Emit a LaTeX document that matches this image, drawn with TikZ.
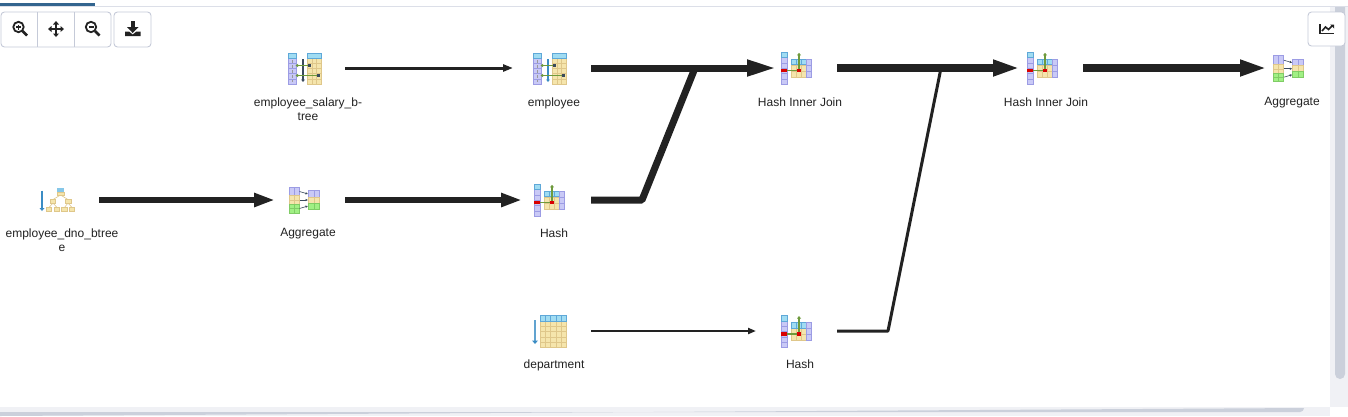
\documentclass[tikz,border=0pt]{standalone}
\usepackage{fontspec}
\setmainfont{Liberation Sans}
\usetikzlibrary{arrows.meta}
\definecolor{lav}{HTML}{C9C9F6}
\definecolor{lavb}{HTML}{9C9CE4}
\definecolor{tanf}{HTML}{F5E5AC}
\definecolor{tanb}{HTML}{DFC78A}
\definecolor{hdr}{HTML}{A0DCF2}
\definecolor{hdrb}{HTML}{5FA8D8}
\definecolor{grn}{HTML}{A0F084}
\definecolor{grnb}{HTML}{80CC66}
\definecolor{garrow}{HTML}{6E9A3C}
\definecolor{barrow}{HTML}{3A8CC4}
\definecolor{dsq}{HTML}{3A4A5C}
\definecolor{edgec}{HTML}{222222}
\definecolor{uib}{HTML}{C5CAD8}
\definecolor{track}{HTML}{F0F1F5}
\definecolor{thumb}{HTML}{CBD0DB}
\definecolor{topbar}{HTML}{33658F}
\newcommand{\cellgrid}[7]{% x1 y1 x2 y2 nx ny color
  \draw[#7,line width=.7pt] (#1,#2) rectangle (#3,#4);
  \pgfmathsetmacro{\dxx}{(#3-#1)/#5}\pgfmathsetmacro{\dyy}{(#4-#2)/#6}
  \foreach \ii in {1,...,#5}{\draw[#7,line width=.5pt] ({#1+\ii*\dxx-\dxx},#2) -- ({#1+\ii*\dxx-\dxx},#4);}
  \foreach \jj in {1,...,#6}{\draw[#7,line width=.5pt] (#1,{#2+\jj*\dyy-\dyy}) -- (#3,{#2+\jj*\dyy-\dyy});}
}
\tikzset{
  x=1pt,y=-1pt,
  iconbox/.style={inner sep=0pt,minimum width=80pt,minimum height=36pt},
  lbl/.style={inner sep=0pt,anchor=north,align=center,font=\fontsize{12}{14.5}\selectfont,text=edgec},
  flow/.style={draw=edgec,line join=bevel},
  uibtn/.style={draw=uib,fill=white,rounded corners=3.5pt,line width=.9pt},
  uiico/.style={draw=edgec,line width=1.8pt},
  % origin = top-left of the icon's left column
  hashicon/.pic={
    \fill[lav] (0,0) rectangle (6,32); \cellgrid{0}{0}{6}{32}{1}{6}{lavb}
    \fill[hdr] (0,0) rectangle (6,5.5); \draw[hdrb,line width=.8pt] (0,0) rectangle (6,5.5);
    \fill[red!85!black] (0,16.6) rectangle (6,20);
    \fill[tanf] (10,7) rectangle (25,25); \cellgrid{10}{7}{25}{25}{3}{3}{tanb}
    \fill[hdr] (10,7) rectangle (25,12.5); \cellgrid{10}{7}{25}{12.5}{3}{1}{hdrb}
    \fill[lav] (25,7) rectangle (30,25); \cellgrid{25}{7}{30}{25}{1}{3}{lavb}
    \draw[garrow,line width=1.4pt] (6,18.3) -- (18,18.3) -- (18,2);
    \fill[garrow] (16,3) -- (18,0.5) -- (20,3) -- cycle;
    \fill[red!85!black] (16.3,16.6) rectangle (19.7,20);
  },
  indexscan/.pic={
    \fill[lav] (0,0) rectangle (8.5,31); \cellgrid{0}{0}{8.5}{31}{1}{6}{lavb}
    \fill[hdr] (0,0) rectangle (8.5,5.5); \draw[hdrb,line width=.8pt] (0,0) rectangle (8.5,5.5);
    \foreach \yy in {8.5,13.5,18.5,23.5,28}{\fill[gray!80] (3.5,\yy-1.2) rectangle (5,\yy+1.2);}
    \draw[#1,line width=1.2pt] (15,6) -- (15,28);
    \fill[#1] (13,26.5) -- (17,26.5) -- (15,29) -- cycle;
    \fill[tanf] (19,0) rectangle (33.5,31); \cellgrid{19}{0}{33.5}{31}{3}{6}{tanb}
    \fill[hdr] (19,0) rectangle (33.5,5.5); \draw[hdrb,line width=.8pt] (19,0) rectangle (33.5,5.5);
    \draw[garrow,line width=1.2pt] (8,12.5) -- (21,12.5);
    \draw[garrow,line width=1.2pt] (8,22.5) -- (30,22.5);
    \fill[garrow] (7.5,12.5) -- (10,10.8) -- (10,14.2) -- cycle;
    \fill[garrow] (7.5,22.5) -- (10,20.8) -- (10,24.2) -- cycle;
    \fill[dsq] (19.5,10.8) rectangle (22.5,14.2);
    \fill[dsq] (29,20.8) rectangle (32,24.2);
  },
  aggicon/.pic={
    \fill[lav] (0,0) rectangle (10.5,8.7); \cellgrid{0}{0}{10.5}{8.7}{2}{1}{lavb}
    \fill[tanf] (0,8.7) rectangle (10.5,17.4); \cellgrid{0}{8.7}{10.5}{17.4}{2}{2}{tanb}
    \fill[grn] (0,17.4) rectangle (10.5,26); \cellgrid{0}{17.4}{10.5}{26}{2}{2}{grnb}
    \fill[lav] (19,3.6) rectangle (30.5,10); \cellgrid{19}{3.6}{30.5}{10}{2}{1}{lavb}
    \fill[tanf] (19,10) rectangle (30.5,16); \cellgrid{19}{10}{30.5}{16}{2}{1}{tanb}
    \fill[grn] (19,16) rectangle (30.5,22); \cellgrid{19}{16}{30.5}{22}{2}{1}{grnb}
    \draw[dsq,line width=.6pt,-{Latex[length=2.5pt,width=2.5pt]}] (10.5,4.5) -- (19,7);
    \draw[dsq,line width=.6pt,-{Latex[length=2.5pt,width=2.5pt]}] (10.5,13) -- (19,13);
    \draw[dsq,line width=.6pt,-{Latex[length=2.5pt,width=2.5pt]}] (10.5,21.5) -- (19,19);
  }
}
\begin{document}
\begin{tikzpicture}
\useasboundingbox (0,0) rectangle (1348,416);
\fill[white] (0,0) rectangle (1348,416);
% chrome
\fill[uib!60] (0,6) rectangle (1348,7);
\fill[topbar] (0,3) rectangle (95,6);
\fill[track] (1330,7) rectangle (1348,407);
\fill[thumb] (1335,7) -- (1345,7) -- (1345,374) arc[start angle=0,end angle=180,radius=5pt,y radius=-5pt] -- cycle;
\fill[track] (0,407) rectangle (1330,416);
\fill[thumb] (0,412) -- (1300,412) arc[start angle=90,end angle=0,radius=4pt,y radius=-4pt] -- (0,416) -- cycle;
% toolbar
\node[uibtn,minimum width=110pt,minimum height=35pt,inner sep=0pt] (zoomgrp) at (56,29.5) {};
\draw[uib,line width=.9pt] (37.5,12) -- (37.5,47);
\draw[uib,line width=.9pt] (74.5,12) -- (74.5,47);
\node[uibtn,minimum width=37pt,minimum height=35pt,inner sep=0pt] (savebtn) at (132.5,29.5) {};
\node[uibtn,minimum width=37pt,minimum height=34pt,inner sep=0pt] (chartbtn) at (1326.5,29) {};
% zoom in
\draw[uiico] (18.5,27) circle[radius=5.2pt];
\draw[edgec,line width=2.6pt] (22.5,31) -- (27,35.5);
\draw[edgec,line width=1.2pt] (16,27) -- (21,27) (18.5,24.5) -- (18.5,29.5);
% move
\draw[edgec,line width=1.7pt] (49,29) -- (63,29) (56,22) -- (56,36);
\fill[edgec] (56,21) -- (59,24.5) -- (53,24.5) -- cycle;
\fill[edgec] (56,37) -- (59,33.5) -- (53,33.5) -- cycle;
\fill[edgec] (48,29) -- (51.5,26) -- (51.5,32) -- cycle;
\fill[edgec] (64,29) -- (60.5,26) -- (60.5,32) -- cycle;
% zoom out
\draw[uiico] (91,27) circle[radius=5.2pt];
\draw[edgec,line width=2.6pt] (95,31) -- (99.5,35.5);
\draw[edgec,line width=1.2pt] (88.5,27) -- (93.5,27);
% download
\fill[edgec] (130.5,21) rectangle (135,27);
\fill[edgec] (127,27) -- (138.5,27) -- (132.7,33) -- cycle;
\fill[edgec] (125,31.5) -- (129,31.5) -- (132.7,34.5) -- (136.5,31.5) -- (140.5,31.5) -- (140.5,36) -- (125,36) -- cycle;
% chart
\draw[edgec,line width=1.6pt] (1320,24) -- (1320,33.5) -- (1334,33.5);
\draw[edgec,line width=1.6pt] (1322,31) -- (1325.5,27) -- (1328.5,29.5) -- (1332.5,25.5);
\fill[edgec] (1330,24.5) -- (1334,24.5) -- (1334,28.5) -- cycle;
% anchors of the plan
\node[iconbox] (salary) at (305,68) {};
\node[iconbox] (emp) at (551,68) {};
\node[iconbox] (joina) at (797,68) {};
\node[iconbox] (joinb) at (1043,68) {};
\node[iconbox] (aggb) at (1291,68) {};
\node[iconbox] (dno) at (59,200) {};
\node[iconbox] (agga) at (305,200) {};
\node[iconbox] (hasha) at (551,200) {};
\node[iconbox] (dept) at (551,331) {};
\node[iconbox] (hashb) at (797,331) {};
\coordinate (ma) at (695,68);
\coordinate (mb) at (642,200);
\coordinate (mc) at (888,331);
\coordinate (md) at (941,68);
% icons
\pic at (288,53) {indexscan=dsq};
\pic at (533,53) {indexscan=barrow};
\pic at (781,52.3) {hashicon};
\pic at (1027,52.3) {hashicon};
\pic at (1273.3,55.7) {aggicon};
\pic at (534,184.3) {hashicon};
\pic at (289,187) {aggicon};
\pic at (781,315.5) {hashicon};
% dno index icon
\draw[tanb,line width=.6pt] (60.5,195) -- (53,199.5) (60.5,195) -- (68,199.5)
  (53,203) -- (49,207.5) (53,203) -- (57,207.5) (68,203) -- (64.5,207.5) (68,203) -- (72,207.5);
\fill[hdr!60!hdrb] (57.3,188.3) rectangle (64,192);
\fill[tanf] (57.3,192) rectangle (64,195);\draw[tanb,line width=.5pt] (57.3,192) rectangle (64,195);
\foreach \xa/\xb/\ya/\yb in {50/55.7/199.3/203.3,65.3/71/199.3/203.3,46/51.7/207.5/211.7,54/59.3/207.5/211.7,61.7/67.3/207.5/211.7,69.3/74.7/207.5/211.7}{
  \fill[tanf] (\xa,\ya) rectangle (\xb,\yb);\draw[tanb,line width=.9pt] (\xa,\ya) rectangle (\xb,\yb);}
\draw[barrow,line width=1.4pt] (42,190.7) -- (42,209);
\fill[barrow] (39.5,208) -- (44.5,208) -- (42,211) -- cycle;
% department icon
\fill[tanf] (540,315) rectangle (566.7,347.7);
\cellgrid{540}{315}{566.7}{347.7}{5}{6}{tanb}
\fill[hdr] (540,315) rectangle (566.7,321);
\cellgrid{540}{315}{566.7}{321}{5}{1}{hdrb}
\draw[barrow!80,line width=1.6pt] (535,320) -- (535,341);
\fill[barrow] (532,340.5) -- (538,340.5) -- (535,344) -- cycle;
% connectors
\draw[flow,line width=3pt,-{Triangle[length=10pt,width=7pt]}] (salary.east) -- ([xshift=-38pt]emp.center);
\draw[flow,line width=7pt] (emp.east) -- (ma);
\draw[flow,line width=7pt] (hasha.east) -- (mb) -- (ma);
\draw[flow,line width=7pt,-{Triangle[length=30pt,width=15pt]}] (ma) -- ([xshift=-20pt]joina.center);
\draw[flow,line width=6pt,-{Triangle[length=21pt,width=13pt]}] (dno.east) -- ([xshift=-30pt]agga.center);
\draw[flow,line width=6pt,-{Triangle[length=21pt,width=13pt]}] (agga.east) -- ([xshift=-29pt]hasha.center);
\draw[flow,line width=2pt,-{Triangle[length=8pt,width=6pt]}] (dept.east) -- ([xshift=-41pt]hashb.center);
\draw[flow,line width=3pt] (hashb.east) -- (mc) -- (md);
\draw[flow,line width=8pt,-{Triangle[length=27pt,width=15pt]}] (joina.east) -- ([xshift=-23pt]joinb.center);
\draw[flow,line width=8pt,-{Triangle[length=27pt,width=15pt]}] (joinb.east) -- ([xshift=-24pt]aggb.center);
% labels
\node[lbl] (l1) at (308,97.5) {employee\_salary\_b-\\tree};
\node[lbl] (l2) at (554,97.5) {employee};
\node[lbl] (l3) at (800,97.5) {Hash Inner Join};
\node[lbl] (l4) at (1046,97.5) {Hash Inner Join};
\node[lbl] (l5) at (1292,97.5) {Aggregate};
\node[lbl] (l6) at (62,228.5) {employee\_dno\_btree\\e};
\node[lbl] (l7) at (308,228.5) {Aggregate};
\node[lbl] (l8) at (554,228.5) {Hash};
\node[lbl] (l9) at (554,359.5) {department};
\node[lbl] (l10) at (800,359.5) {Hash};
\end{tikzpicture}
\end{document}
